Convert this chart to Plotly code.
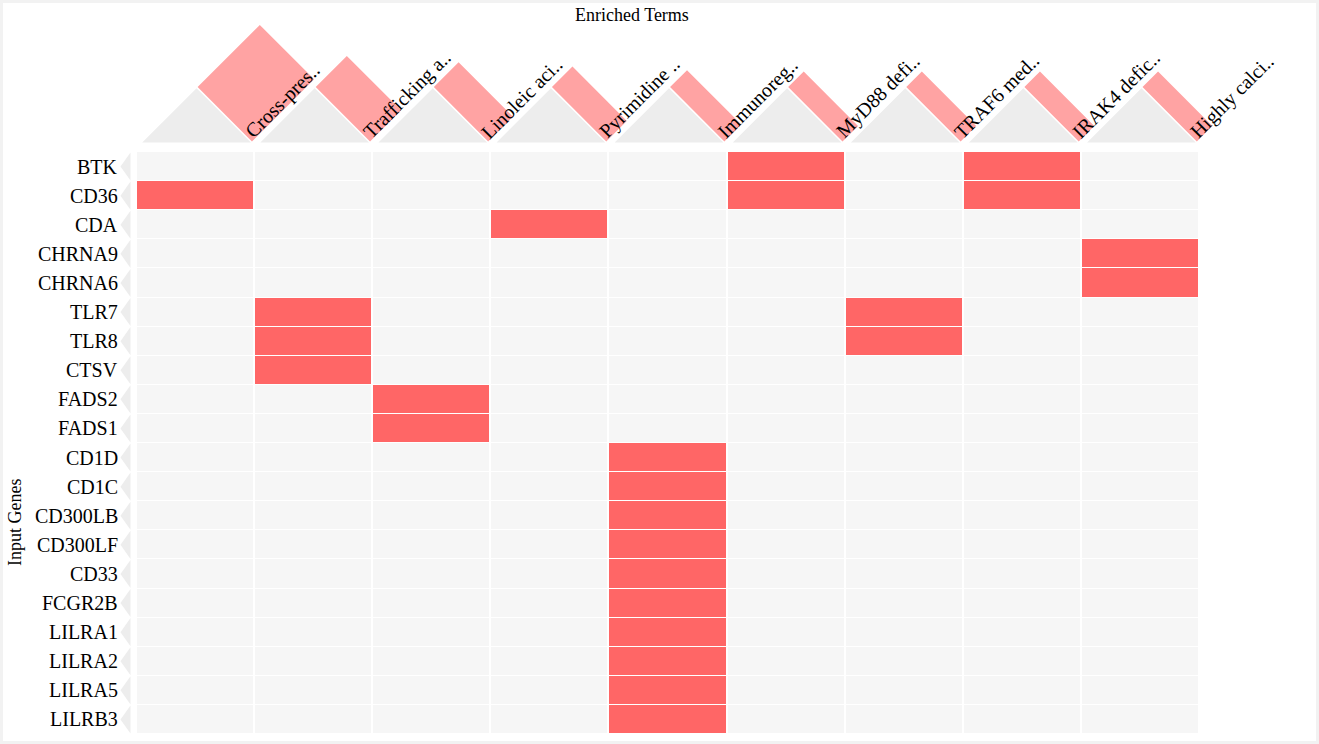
import math
import plotly.graph_objects as go

# ---------------- data ----------------
terms = ["Cross-pres..", "Trafficking a..", "Linoleic aci..", "Pyrimidine ..",
         "Immunoreg..", "MyD88 defi..", "TRAF6 med..", "IRAK4 defic..", "Highly calci.."]
term_scores = [8.8, 4.4, 3.5, 2.9, 2.4, 2.2, 2.2, 2.2, 2.2]

genes = ["BTK", "CD36", "CDA", "CHRNA9", "CHRNA6", "TLR7", "TLR8", "CTSV", "FADS2", "FADS1",
         "CD1D", "CD1C", "CD300LB", "CD300LF", "CD33", "FCGR2B", "LILRA1", "LILRA2",
         "LILRA5", "LILRB3"]

gene_terms = {
    "BTK": ["MyD88 defi..", "IRAK4 defic.."],
    "CD36": ["Cross-pres..", "MyD88 defi..", "IRAK4 defic.."],
    "CDA": ["Pyrimidine .."],
    "CHRNA9": ["Highly calci.."],
    "CHRNA6": ["Highly calci.."],
    "TLR7": ["Trafficking a..", "TRAF6 med.."],
    "TLR8": ["Trafficking a..", "TRAF6 med.."],
    "CTSV": ["Trafficking a.."],
    "FADS2": ["Linoleic aci.."],
    "FADS1": ["Linoleic aci.."],
    "CD1D": ["Immunoreg.."],
    "CD1C": ["Immunoreg.."],
    "CD300LB": ["Immunoreg.."],
    "CD300LF": ["Immunoreg.."],
    "CD33": ["Immunoreg.."],
    "FCGR2B": ["Immunoreg.."],
    "LILRA1": ["Immunoreg.."],
    "LILRA2": ["Immunoreg.."],
    "LILRA5": ["Immunoreg.."],
    "LILRB3": ["Immunoreg.."],
}

# ---------------- layout constants (pixels) ----------------
W, H = 1319, 744
GRID_L, GRID_R = 136.0, 1199.0
GRID_T, GRID_B = 152.0, 734.0
BASE_Y = 142.5
FONT = "Liberation Serif, Times New Roman, serif"

ncol, nrow = len(terms), len(genes)
colw = (GRID_R - GRID_L) / ncol
rowh = (GRID_B - GRID_T) / nrow

z = [[1 if t in gene_terms[g] else 0 for t in terms] for g in genes]

fig = go.Figure()

fig.add_trace(go.Heatmap(
    z=z, x=list(range(ncol)), y=list(range(nrow)),
    colorscale=[[0, "#f6f6f6"], [1, "#ff6666"]], zmin=0, zmax=1,
    showscale=False, xgap=2, ygap=1, hoverinfo="skip",
    xaxis="x", yaxis="y"))

# ---------------- header decorations (overlay pixel axes) ----------------
s2 = 1 / math.sqrt(2)
tri_x, tri_y, bar_x, bar_y = [], [], [], []
half = 0.46 * colw
gap = 1.5
for c, sc in enumerate(term_scores):
    cx = GRID_L + (c + 0.5) * colw + 1.5
    ax_, ay_ = cx, BASE_Y - half
    bx_, by_ = cx + half, BASE_Y
    tri_x += [cx - half, ax_, bx_, cx - half, None]
    tri_y += [BASE_Y, ay_, by_, BASE_Y, None]
    t = sc * 10
    pts = [(ax_ + gap * s2, ay_ - gap * s2), (bx_ + gap * s2, by_ - gap * s2),
           (bx_ + (gap + t) * s2, by_ - (gap + t) * s2), (ax_ + (gap + t) * s2, ay_ - (gap + t) * s2)]
    bar_x += [p[0] for p in pts] + [pts[0][0], None]
    bar_y += [p[1] for p in pts] + [pts[0][1], None]

fig.add_trace(go.Scatter(x=tri_x, y=tri_y, fill="toself", fillcolor="#ededed", mode="lines",
                         line=dict(width=0, color="#ededed"), hoverinfo="skip",
                         xaxis="x2", yaxis="y2"))
fig.add_trace(go.Scatter(x=bar_x, y=bar_y, fill="toself", fillcolor="#ffa3a3", mode="lines",
                         line=dict(width=0, color="#ffa3a3"), hoverinfo="skip",
                         xaxis="x2", yaxis="y2"))

# left row markers
lx, ly = [], []
for r in range(nrow):
    top = GRID_T + r * rowh
    lx += [130.5, 120.5, 130.5, 130.5, None]
    ly += [top + 0.5, top + rowh / 2, top + rowh - 0.5, top + 0.5, None]
fig.add_trace(go.Scatter(x=lx, y=ly, fill="toself", fillcolor="#ededed", mode="lines",
                         line=dict(width=0, color="#ededed"), hoverinfo="skip",
                         xaxis="x2", yaxis="y2"))

annotations = []
for c, term in enumerate(terms):
    cx = GRID_L + (c + 0.5) * colw + 1.5
    annotations.append(dict(
        x=cx + half, y=BASE_Y, xref="x2", yref="y2", text=term, showarrow=False,
        textangle=-45, xanchor="left", yanchor="bottom", xshift=-13, yshift=-3,
        font=dict(family=FONT, size=20, color="#000")))

for r, g in enumerate(genes):
    annotations.append(dict(
        x=119.5 / W, y=r, xref="paper", yref="y", text=g, showarrow=False,
        xanchor="right", yanchor="middle", font=dict(family=FONT, size=20, color="#000")))

annotations.append(dict(x=631.5 / W, y=1 - 14.5 / H, xref="paper", yref="paper",
                        text="Enriched Terms", showarrow=False, xanchor="center", yanchor="middle",
                        font=dict(family=FONT, size=18, color="#000")))
annotations.append(dict(x=15 / W, y=1 - 523 / H, xref="paper", yref="paper",
                        text="Input Genes", showarrow=False, textangle=-90,
                        xanchor="center", yanchor="middle",
                        font=dict(family=FONT, size=18, color="#000")))

fig.update_layout(
    width=W, height=H, margin=dict(l=0, r=0, t=0, b=0),
    paper_bgcolor="white", plot_bgcolor="rgba(0,0,0,0)",
    showlegend=False, hovermode=False,
    xaxis=dict(domain=[GRID_L / W, GRID_R / W], range=[-0.5, ncol - 0.5], visible=False,
               anchor="y"),
    yaxis=dict(domain=[(H - GRID_B) / H, (H - GRID_T) / H], range=[nrow - 0.5, -0.5],
               visible=False, anchor="x"),
    xaxis2=dict(domain=[0, 1], range=[0, W], visible=False, anchor="y2"),
    yaxis2=dict(domain=[0, 1], range=[H, 0], visible=False, anchor="x2"),
    annotations=annotations,
    shapes=[dict(type="rect", xref="paper", yref="paper", x0=0, x1=1, y0=0, y1=1,
                 line=dict(color="#f2f2f2", width=6), layer="above")],
)

fig.write_html("out.html")
